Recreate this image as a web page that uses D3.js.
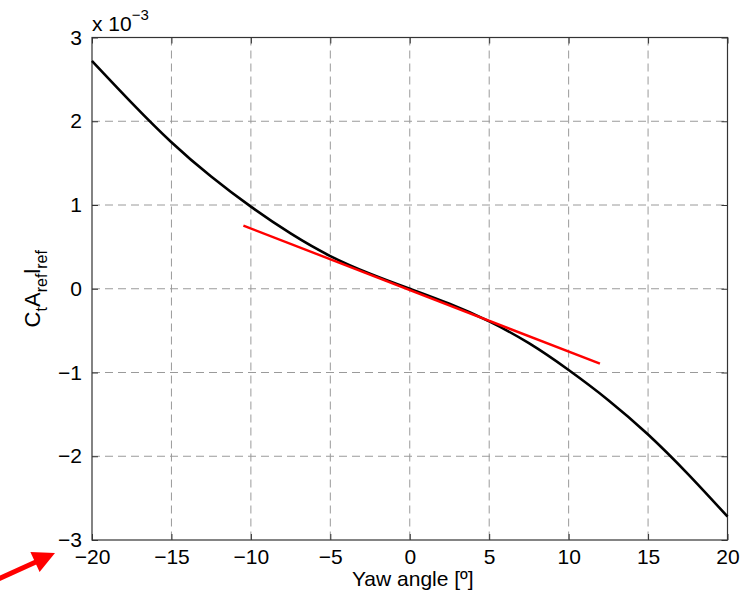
<!DOCTYPE html>
<html>
<head>
<meta charset="utf-8">
<script src="https://cdn.jsdelivr.net/npm/d3@7"></script>
<style>
  body { margin: 0; background: #fff; }
  text { font-family: "Liberation Sans", Arial, Helvetica, sans-serif; fill: #000; }
</style>
</head>
<body>
<div id="chart"></div>
<script>
// yaw angle [deg] and C_t A_ref l_ref (in units of 1e-3)
const yawAngles = [-20, -17.5, -15, -12.5, -10, -7.5, -5, -2.5, 0, 2.5, 5, 7.5, 10, 12.5, 15, 17.5, 20];
const ctValues  = [2.72, 2.22, 1.75, 1.34, 0.98, 0.66, 0.39, 0.18, 0, -0.18, -0.39, -0.65, -0.97, -1.33, -1.74, -2.21, -2.72];

// red linear fit
const fitAngles = [-10.47, 11.97];
const fitValues = [0.754, -0.895];

const xTicks = [-20, -15, -10, -5, 0, 5, 10, 15, 20];
const yTicks = [-3, -2, -1, 0, 1, 2, 3];

const width = 741, height = 595;
const margin = {left: 92, right: 13.5, top: 37.5, bottom: 55};

const svg = d3.select("#chart").append("svg")
    .attr("width", width)
    .attr("height", height);

const x = d3.scaleLinear().domain([-20, 20]).range([margin.left, width - margin.right]);
const y = d3.scaleLinear().domain([-3, 3]).range([height - margin.bottom, margin.top]);

const fmt = d => d < 0 ? "\u2212" + Math.abs(d) : String(d);

// grid
const grid = svg.append("g")
    .attr("stroke", "#9a9a9a")
    .attr("stroke-width", 1)
    .attr("stroke-dasharray", "8,5");

grid.selectAll("line.vx")
    .data(xTicks.slice(1, -1))
    .enter().append("line")
    .attr("x1", d => x(d)).attr("x2", d => x(d))
    .attr("y1", y(3)).attr("y2", y(-3));

grid.selectAll("line.hy")
    .data(yTicks.slice(1, -1))
    .enter().append("line")
    .attr("x1", x(-20)).attr("x2", x(20))
    .attr("y1", d => y(d)).attr("y2", d => y(d));

// axes (ticks inside, MATLAB style)
const tl = 6;
svg.append("g")
    .attr("transform", `translate(0,${y(-3)})`)
    .call(d3.axisBottom(x).tickValues(xTicks).tickSize(-tl).tickPadding(9).tickFormat(fmt))
    .call(g => g.select(".domain").remove());

svg.append("g")
    .attr("transform", `translate(0,${y(3)})`)
    .call(d3.axisTop(x).tickValues(xTicks).tickSize(-tl).tickFormat(""))
    .call(g => g.select(".domain").remove());

svg.append("g")
    .attr("transform", `translate(${x(-20)},0)`)
    .call(d3.axisLeft(y).tickValues(yTicks).tickSize(-tl).tickPadding(10).tickFormat(fmt))
    .call(g => g.select(".domain").remove());

svg.append("g")
    .attr("transform", `translate(${x(20)},0)`)
    .call(d3.axisRight(y).tickValues(yTicks).tickSize(-tl).tickFormat(""))
    .call(g => g.select(".domain").remove());

svg.selectAll(".tick line").attr("stroke", "#333");
svg.selectAll(".tick text")
    .attr("font-size", 21)
    .attr("font-family", "Liberation Sans, Arial, sans-serif");

// frame
svg.append("rect")
    .attr("x", x(-20)).attr("y", y(3))
    .attr("width", x(20) - x(-20))
    .attr("height", y(-3) - y(3))
    .attr("fill", "none")
    .attr("stroke", "#333")
    .attr("stroke-width", 1.2);

// curve
const line = d3.line()
    .x((d, i) => x(yawAngles[i]))
    .y(d => y(d))
    .curve(d3.curveNatural);

svg.append("path")
    .datum(ctValues)
    .attr("d", line)
    .attr("fill", "none")
    .attr("stroke", "#000")
    .attr("stroke-width", 2.6);

// fit line
svg.append("path")
    .datum(fitValues)
    .attr("d", d3.line().x((d, i) => x(fitAngles[i])).y(d => y(d)))
    .attr("fill", "none")
    .attr("stroke", "#f00")
    .attr("stroke-width", 2.4);

// exponent label
const expo = svg.append("text")
    .attr("x", x(-20))
    .attr("y", 31)
    .attr("font-size", 21);
expo.append("tspan").text("x 10");
expo.append("tspan").attr("dy", -11).attr("font-size", 15).text("\u22123");

// y label
const yl = svg.append("text")
    .attr("transform", `translate(40,${y(0)}) rotate(-90)`)
    .attr("text-anchor", "middle")
    .attr("font-size", 22);
yl.append("tspan").text("C");
yl.append("tspan").attr("dy", 7).attr("font-size", 16).text("t");
yl.append("tspan").attr("dy", -7).text("A");
yl.append("tspan").attr("dy", 7).attr("font-size", 16).text("ref");
yl.append("tspan").attr("dy", -7).text("l");
yl.append("tspan").attr("dy", 7).attr("font-size", 16).text("ref");

// x label
svg.append("text")
    .attr("x", x(0) + 3)
    .attr("y", 586)
    .attr("text-anchor", "middle")
    .attr("font-size", 21)
    .text("Yaw angle [\u00ba]");

// red annotation arrow
svg.append("line")
    .attr("x1", -4).attr("y1", 580)
    .attr("x2", 38).attr("y2", 561)
    .attr("stroke", "#f00")
    .attr("stroke-width", 5);
svg.append("path")
    .attr("d", "M55,553 L39.6,572.1 L30.4,552.1 Z")
    .attr("fill", "#f00");
</script>
</body>
</html>
